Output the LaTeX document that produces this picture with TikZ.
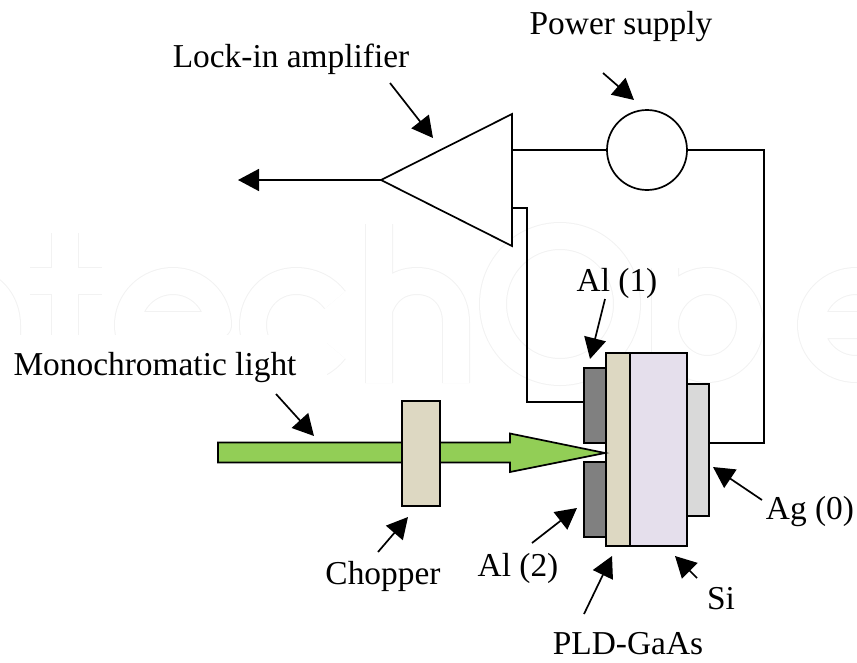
\documentclass[tikz,border=0pt]{standalone}
\usepackage{fontspec}
\setmainfont{Liberation Serif}
\usetikzlibrary{arrows.meta}
\newcommand{\wmEE}[1]{\draw[wm,shift={(#1,0)}] (-45,325) -- (45,325) .. controls (45,301) and (25,281) .. (0,281) .. controls (-25,281) and (-45,301) .. (-45,325) .. controls (-45,349) and (-25,369) .. (0,369) .. controls (17,369) and (32,365) .. (39,358);}
\tikzset{
  x=1pt,y=-1pt,
  wm/.style={draw=black!5,line width=1pt,double=white,double distance=26pt,line cap=butt,line join=round},
  wire/.style={draw=black,line width=1.7pt,line join=miter},
  callout/.style={draw=black,line width=1.7pt,-{Triangle[length=21pt,width=22pt]},shorten >=0pt},
  part/.style={draw=black,line width=1.7pt,inner sep=0pt,outer sep=0pt,minimum width=0pt},
  lab/.style={font=\fontsize{33.4}{36}\selectfont,inner sep=0pt,anchor=center,text=black},
}
\definecolor{beam}{HTML}{92CE56}
\definecolor{tan}{HTML}{DDD8C2}
\definecolor{sil}{HTML}{E5DFEC}
\definecolor{alu}{HTML}{808080}
\definecolor{agc}{HTML}{D9D9D9}
\begin{document}
\begin{tikzpicture}
\useasboundingbox (0,0) rectangle (857,662);
\begin{scope}
\clip (0,0) rectangle (857,662);
% faint watermark
\draw[wm] (7,383) -- (7,325) .. controls (7,301) and (-10,281) .. (-35,281);
\draw[wm] (65,233) -- (65,383) (30,281) -- (102,281);
\wmEE{173}
\draw[wm] (335,300) .. controls (326,288) and (312,281) .. (296,281) .. controls (271,281) and (253,301) .. (253,325) .. controls (253,349) and (271,369) .. (296,369) .. controls (312,369) and (326,362) .. (335,350);
\draw[wm] (379,224) -- (379,383) (379,310) .. controls (385,292) and (398,281) .. (417,281) .. controls (440,281) and (456,298) .. (456,322) -- (456,383);
\draw[wm] (560,236) .. controls (597,236) and (627,266) .. (627,304) .. controls (627,342) and (597,372) .. (560,372) .. controls (523,372) and (493,342) .. (493,304) .. controls (493,266) and (523,236) .. (560,236) -- cycle;
\draw[wm] (665,268) -- (665,385) (665,325) .. controls (665,301) and (685,281) .. (707,281) .. controls (731,281) and (750,301) .. (750,325) .. controls (750,349) and (731,369) .. (707,369) .. controls (685,369) and (665,349) .. (665,325) -- cycle;
\wmEE{856}
\fill[white] (0,335) rectangle (327,400);
\end{scope}
% output and amplifier
\draw[part,fill=white] (381,180) -- (512,114) -- (512,246) -- cycle;
\coordinate (ampapex) at (381,180);
\coordinate (ampin1) at (512,150);
\coordinate (ampin2) at (512,208);
\coordinate (outend) at (238,180);
\draw[callout] (ampapex) -- (outend);
% power supply
\node[part,circle,minimum size=80pt,fill=white] (psu) at (647,150) {};
% layer stack
\node[part,fill=alu,minimum width=22pt,minimum height=75pt] (alone) at (595,405.5) {};
\node[part,fill=alu,minimum width=22pt,minimum height=75pt] (altwo) at (595,499.5) {};
\node[part,fill=agc,minimum width=22pt,minimum height=132pt] (ag) at (698,450) {};
\node[part,fill=sil,minimum width=57pt,minimum height=193pt] (si) at (658.5,449.5) {};
\node[part,fill=tan,minimum width=24pt,minimum height=193pt] (gaas) at (618,449.5) {};
% wires
\coordinate (wa) at (764,443);
\coordinate (ago) at (709,443);
\draw[wire] (ampin1) -- (psu.west);
\draw[wire] (psu.east) -- (764,150) -- (wa) -- (ago);
\coordinate (alw) at (584,402);
\draw[wire] (ampin2) -- (527,208) -- (527,402) -- (alw);
% light beam
\draw[line width=1.7pt,fill=beam,line join=miter] (218,442.5) -- (510,442.5) -- (510,433.5) -- (605,453) -- (510,472) -- (510,462.5) -- (218,462.5) -- cycle;
\node[part,fill=tan,minimum width=38pt,minimum height=105pt] (chop) at (421,453.5) {};
% labels
\node[lab] (lpower) at (621,27) {Power supply};
\node[lab] (llock) at (291,59) {Lock-in amplifier};
\node[lab] (lmono) at (155,368) {Monochromatic light};
\node[lab] (lalone) at (617,283) {Al (1)};
\node[lab] (lchop) at (383,576) {Chopper};
\node[lab] (laltwo) at (518,568) {Al (2)};
\node[lab] (lgaas) at (628,644) {PLD-GaAs};
\node[lab] (lsi) at (721,599) {Si};
\node[lab] (lag) at (810,512) {Ag (0)};
% callouts
\coordinate (tpower) at (634,100);
\coordinate (tlock) at (433,138);
\coordinate (tmono) at (314,436);
\coordinate (talone) at (590,359);
\coordinate (taltwo) at (577,508);
\coordinate (tag) at (713,467);
\coordinate (tsi) at (675,556);
\coordinate (tchop) at (408,517);
\coordinate (tgaas) at (612,556);
\draw[callout] (603,73) -- (tpower);
\draw[callout] (390,83) -- (tlock);
\draw[callout] (276,394) -- (tmono);
\draw[callout] (605,299) -- (talone);
\draw[callout] (532,543) -- (taltwo);
\draw[callout] (762,500) -- (tag);
\draw[callout] (697,578) -- (tsi);
\draw[callout] (378,552) -- (tchop);
\draw[callout] (584,614) -- (tgaas);
\end{tikzpicture}
\end{document}
